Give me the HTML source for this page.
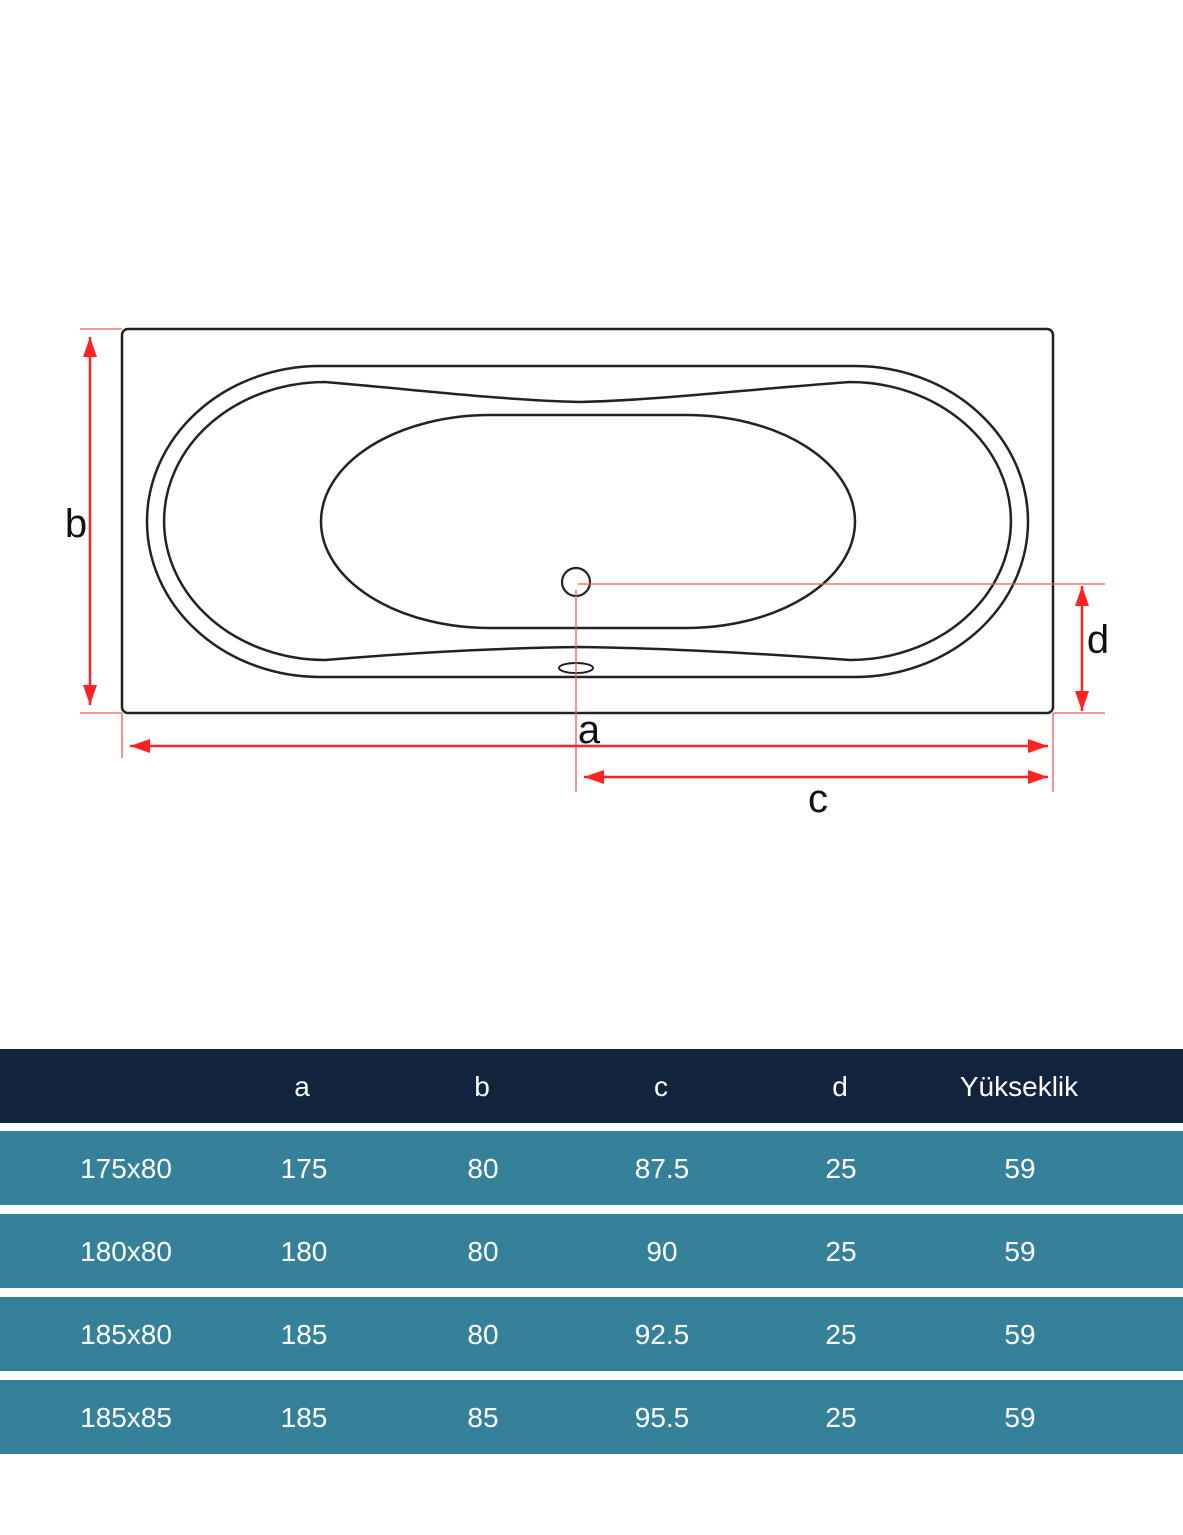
<!DOCTYPE html>
<html><head><meta charset="utf-8"><style>
html,body{margin:0;padding:0;background:#fff;}
body{width:1183px;height:1535px;position:relative;overflow:hidden;font-family:"Liberation Sans",sans-serif;}
.row{position:absolute;left:0;width:1183px;height:74px;background:#35819a;color:#fff;font-size:28px;}
.row span{position:absolute;top:0;line-height:76px;transform:translateX(-50%);}
.hdr{background:#12243d;}
</style></head><body>
<svg width="1183" height="1000" style="position:absolute;left:0;top:0" xmlns="http://www.w3.org/2000/svg">
<defs>
<marker id="ar" viewBox="0 0 10 10" refX="10" refY="5" markerWidth="8" markerHeight="8" orient="auto-start-reverse"><path d="M0,1.5 L10,5 L0,8.5 z" fill="#f22"/></marker>
</defs>
<g fill="none" stroke="#222" stroke-width="2.5">
<rect x="122" y="329" width="931" height="384" rx="6"/>
<path d="M320,366 H855 A173,155.5 0 0 1 855,677 H320 A173,155.5 0 0 1 320,366 Z"/>
<path d="M325,382 C420,390 500,400 580,402 C660,400 740,390 850,382 A161,139 0 0 1 850,660 C740,652 660,648 580,647 C500,648 420,652 325,660 A161,139 0 0 1 325,382 Z"/>
<path d="M490,415 H686 A169,106.5 0 0 1 686,628 H490 A169,106.5 0 0 1 490,415 Z"/>
<circle cx="576" cy="582" r="14" stroke-width="2.2"/>
<ellipse cx="576" cy="668" rx="17" ry="5" stroke-width="2"/>
</g>
<g stroke="#f55" stroke-width="1.3" fill="none">
<line x1="80" y1="329" x2="122" y2="329"/>
<line x1="80" y1="713" x2="122" y2="713"/>
<line x1="122" y1="713" x2="122" y2="758"/>
<line x1="1053" y1="713" x2="1053" y2="792"/>
<line x1="576" y1="590" x2="576" y2="792"/>
<line x1="578" y1="584" x2="1105" y2="584"/>
<line x1="1053" y1="713" x2="1105" y2="713"/>
</g>
<g stroke="#f22" stroke-width="2.5" fill="none">
<line x1="90" y1="337" x2="90" y2="705" marker-start="url(#ar)" marker-end="url(#ar)"/>
<line x1="130" y1="746" x2="1048" y2="746" marker-start="url(#ar)" marker-end="url(#ar)"/>
<line x1="584" y1="777" x2="1048" y2="777" marker-start="url(#ar)" marker-end="url(#ar)"/>
<line x1="1082" y1="586" x2="1082" y2="711" marker-start="url(#ar)" marker-end="url(#ar)"/>
</g>
<g font-family="Liberation Sans, sans-serif" font-size="40" fill="#111" text-anchor="middle">
<text x="76" y="537">b</text>
<text x="589" y="743">a</text>
<text x="818" y="812">c</text>
<text x="1098" y="653">d</text>
</g>
</svg>
<div class="row hdr" style="top:1049px"><span style="left:302px">a</span><span style="left:482px">b</span><span style="left:661px">c</span><span style="left:840px">d</span><span style="left:1019px">Yükseklik</span></div>
<div class="row" style="top:1131px"><span style="left:126px">175x80</span><span style="left:304px">175</span><span style="left:483px">80</span><span style="left:662px">87.5</span><span style="left:841px">25</span><span style="left:1020px">59</span></div>
<div class="row" style="top:1214px"><span style="left:126px">180x80</span><span style="left:304px">180</span><span style="left:483px">80</span><span style="left:662px">90</span><span style="left:841px">25</span><span style="left:1020px">59</span></div>
<div class="row" style="top:1297px"><span style="left:126px">185x80</span><span style="left:304px">185</span><span style="left:483px">80</span><span style="left:662px">92.5</span><span style="left:841px">25</span><span style="left:1020px">59</span></div>
<div class="row" style="top:1380px"><span style="left:126px">185x85</span><span style="left:304px">185</span><span style="left:483px">85</span><span style="left:662px">95.5</span><span style="left:841px">25</span><span style="left:1020px">59</span></div>
</body></html>
